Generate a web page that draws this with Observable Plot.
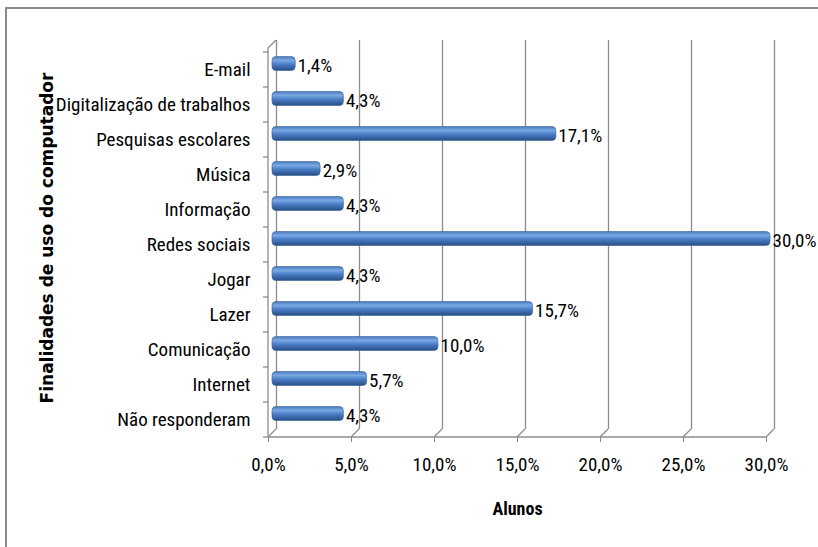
<!DOCTYPE html>
<html>
<head>
<meta charset="utf-8">
<script src="https://cdn.jsdelivr.net/npm/d3@7"></script>
<script src="https://cdn.jsdelivr.net/npm/@observablehq/plot@0.6"></script>
<style>
  html, body { margin: 0; padding: 0; background: #fff; }
  #chart svg { display: block; }
</style>
</head>
<body>
<div id="chart"></div>
<script>
// ---- data ----
const categories = [
  "E-mail",
  "Digitalização de trabalhos",
  "Pesquisas escolares",
  "Música",
  "Informação",
  "Redes sociais",
  "Jogar",
  "Lazer",
  "Comunicação",
  "Internet",
  "Não responderam"
];
const values = [1.4, 4.3, 17.1, 2.9, 4.3, 30.0, 4.3, 15.7, 10.0, 5.7, 4.3];
const xTickValues = [0, 5, 10, 15, 20, 25, 30];
const yTitle = "Finalidades de uso do computador";
const xTitle = "Alunos";

// ---- chart ----
const NARROW = "'Liberation Sans Narrow', 'Arial Narrow', 'Roboto Condensed', sans-serif";
const GRID = "#8c8c8c";
const D = 8; // 3D depth offset
const fmt = v => v.toFixed(1).replace(".", ",") + "%";
const table = categories.map((c, i) => ({category: c, value: values[i]}));

function depthDecor(index, scales, values, dims) {
  const {x, y} = scales;
  const g = d3.create("svg:g").attr("stroke", GRID).attr("stroke-width", 1.3).attr("fill", "none");
  const y0 = dims.height - dims.marginBottom;
  const yTop = dims.marginTop - 4;
  const xMin = x(xTickValues[0]), xMax = x(xTickValues[xTickValues.length - 1]);
  // floor front edge
  g.append("line").attr("x1", xMin).attr("x2", xMax).attr("y1", y0).attr("y2", y0);
  // floor diagonals
  for (const t of xTickValues) {
    g.append("line").attr("x1", x(t)).attr("y1", y0).attr("x2", x(t) + D).attr("y2", y0 - D);
  }
  // left wall front edge
  g.append("line").attr("x1", xMin).attr("x2", xMin).attr("y1", yTop).attr("y2", y0);
  g.append("line").attr("x1", xMin).attr("y1", yTop).attr("x2", xMin + D).attr("y2", yTop - D);
  // y ticks between categories
  const bounds = categories.map(c => y(c)).concat([y0]);
  for (const b of bounds) {
    g.append("line").attr("x1", xMin - 5).attr("x2", xMin).attr("y1", b).attr("y2", b);
  }
  return g.node();
}

const chart = Plot.plot({
  width: 818,
  height: 547,
  marginLeft: 268,
  marginRight: 52,
  marginTop: 52,
  marginBottom: 110,
  style: {fontFamily: NARROW, fontSize: "19px", color: "#000", background: "#fff", overflow: "visible"},
  x: {domain: [0, 30]},
  y: {domain: categories, padding: 0},
  marks: [
    Plot.ruleX(xTickValues, {dx: D, dy: -D, insetTop: -4, stroke: GRID, strokeWidth: 1.3}),
    depthDecor,
    Plot.barX(table, {
      y: "category", x: "value",
      fill: "url(#cyl)", stroke: "#365f96", strokeWidth: 0.6,
      rx: 4, insetTop: 10.5, insetBottom: 10.5, dx: 4, dy: -6
    }),
    Plot.text(table, {
      y: "category", x: "value", text: d => fmt(d.value),
      textAnchor: "start", dx: 6, dy: -4, fill: "#000"
    }),
    Plot.axisX({ticks: xTickValues, tickFormat: fmt, tickSize: 5, tickPadding: 15, stroke: GRID, fill: "#000", label: null}),
    Plot.axisY({tickSize: 0, tickPadding: 18, fill: "#000", label: null}),
    Plot.text([yTitle], {
      frameAnchor: "left", textAnchor: "middle", rotate: -90, dx: -221, dy: -7,
      fontWeight: "bold", fontFamily: "'DejaVu Sans', Verdana, sans-serif", fontSize: 17, fill: "#000"
    }),
    Plot.text([xTitle], {
      frameAnchor: "bottom", dy: 77,
      fontWeight: "bold", fontSize: 18, fill: "#000"
    })
  ]
});

const svg = d3.select(chart);
svg.insert("defs", ":first-child").html(`
  <linearGradient id="cyl" x1="0" y1="0" x2="0" y2="1">
    <stop offset="0%" stop-color="#4a7cc0"/>
    <stop offset="28%" stop-color="#7aa8e4"/>
    <stop offset="55%" stop-color="#4a7ec6"/>
    <stop offset="100%" stop-color="#284e86"/>
  </linearGradient>`);
// outer chart-area border (top and left edges visible)
svg.insert("rect", "defs + *")
  .attr("x", 6).attr("y", 8).attr("width", 840).attr("height", 560)
  .attr("fill", "none").attr("stroke", "#8a8a8a").attr("stroke-width", 2);

document.getElementById("chart").appendChild(chart);
</script>
</body>
</html>
